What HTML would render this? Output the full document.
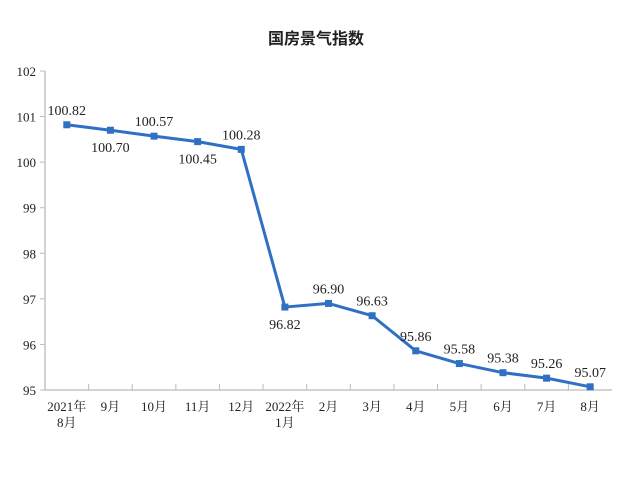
<!DOCTYPE html>
<html><head><meta charset="utf-8"><style>
body{margin:0;background:#fff;}
svg text{font-family:"Liberation Serif","Noto Serif CJK SC",serif;fill:#222;}
</style></head><body>
<svg width="631" height="476" id="c">
<text x="316" y="44" text-anchor="middle" font-size="16" font-weight="bold" style='font-family:"Liberation Sans","Noto Sans CJK SC",sans-serif'>国房景气指数</text>
<g id="axes"></g><g id="plot"></g>
</svg>
<script>
const categories=[["2021年","8月"],["9月"],["10月"],["11月"],["12月"],["2022年","1月"],["2月"],["3月"],["4月"],["5月"],["6月"],["7月"],["8月"]];
const values=[100.82,100.70,100.57,100.45,100.28,96.82,96.90,96.63,95.86,95.58,95.38,95.26,95.07];
const labelBelow=[false,true,false,true,false,true,false,false,false,false,false,false,false];
const yTicks=[95,96,97,98,99,100,101,102];
const NS="http://www.w3.org/2000/svg";
const x0=45,x1=612,yTop=71,yBot=390,yMin=95,yMax=102;
const band=(x1-x0)/categories.length;
const X=i=>x0+band*(i+0.5);
const Y=v=>yBot-(v-yMin)/(yMax-yMin)*(yBot-yTop);
const axes=document.getElementById('axes'),plot=document.getElementById('plot');
function mk(t,a,p){const e=document.createElementNS(NS,t);for(const k in a)e.setAttribute(k,a[k]);p.appendChild(e);return e;}
let e=mk('line',{x1:x0,y1:yTop,x2:x0,y2:yBot,stroke:'#bbb','stroke-width':1.3},axes);


e=mk('line',{x1:x0,y1:yBot,x2:x1,y2:yBot,stroke:'#bbb','stroke-width':1.3},axes);


yTicks.forEach(v=>{mk('line',{x1:x0-5,y1:Y(v),x2:x0,y2:Y(v),stroke:'#bbb'},axes);
const t=mk('text',{x:36,y:Y(v)+5,'text-anchor':'end','font-size':13},axes);t.textContent=v;

});
for(let i=1;i<categories.length;i++)mk('line',{x1:x0+band*i,y1:yBot-6,x2:x0+band*i,y2:yBot,stroke:'#bbb'},axes);
categories.forEach((c,i)=>{c.forEach((s,j)=>{const t=mk('text',{x:X(i),y:yBot+21+j*16,'text-anchor':'middle','font-size':13},axes);t.textContent=s;

});});
const pl=mk('polyline',{points:values.map((v,i)=>X(i)+','+Y(v)).join(' '),fill:'none',stroke:'#3070c4','stroke-width':3,'stroke-linejoin':'round'},plot);


values.forEach((v,i)=>{const r=mk('rect',{x:X(i)-3.5,y:Y(v)-3.5,width:7,height:7,fill:'#3070c4'},plot);


const t=mk('text',{x:X(i),y:labelBelow[i]?Y(v)+22:Y(v)-10,'text-anchor':'middle','font-size':14},plot);t.textContent=v.toFixed(2);

});
</script>
</body></html>
